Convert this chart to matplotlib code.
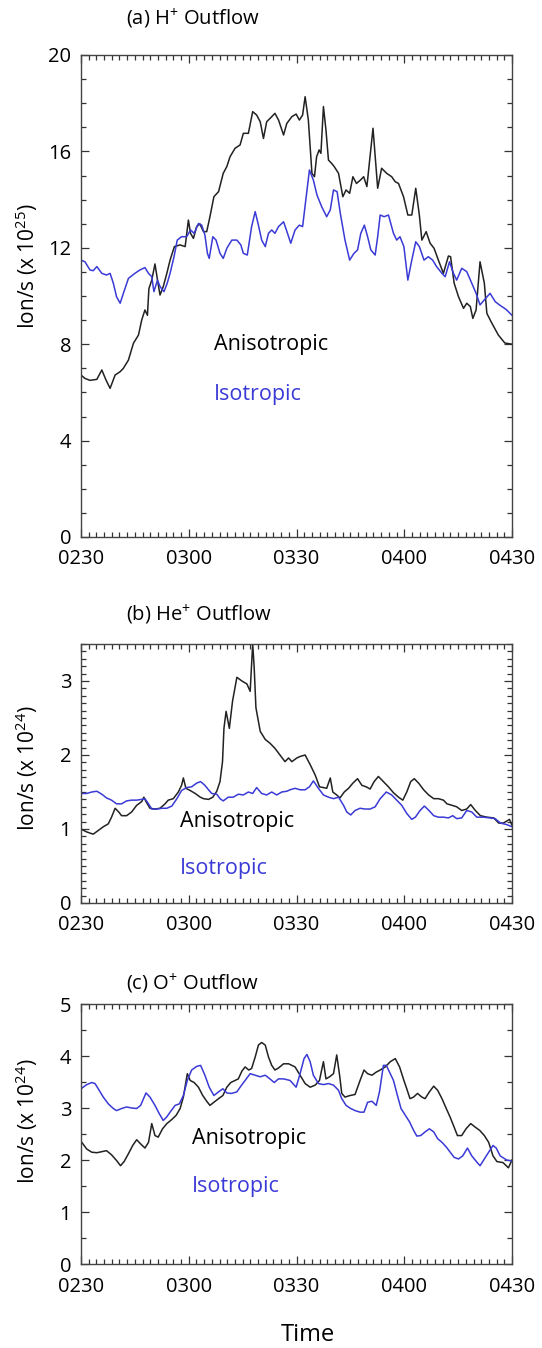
import numpy as np
import matplotlib
matplotlib.use('Agg')
import matplotlib.pyplot as plt
from matplotlib.ticker import MultipleLocator, FixedLocator

plt.rcParams['font.family'] = ['Open Sans', 'DejaVu Sans']

# time axis: minutes after 02:30 UT
tick_pos = [0, 30, 60, 90, 120]
tick_lab = ['0230', '0300', '0330', '0400', '0430']

# (a) H+ outflow, x 10^25 ion/s
a_t_aniso = [0, 1.1, 2.5, 4.4, 5.8, 7, 8.1, 9.5, 10.9, 11.8, 13.2, 14.6, 16, 16.9, 17.8, 18.5,
             18.9, 19.7, 20.6, 21.3, 22, 22.9, 23.9, 24.8, 26, 27.6, 29, 29.9, 30.5, 31.3, 32.2,
             33.1, 34.1, 35, 35.9, 37, 38.3, 39.6, 40.6, 41.5, 42.9, 44.3, 45.2, 46.6, 47.8, 48.9,
             49.9, 50.8, 51.7, 53.1, 54, 55, 56.4, 57.3, 58.7, 59.9, 60.8, 61.7, 62.4, 63.3, 64.3,
             65, 65.6, 66.3, 66.8, 67.5, 68.2, 68.9, 69.8, 70.5, 71.7, 72.9, 73.8, 74.8, 75.7, 76.7,
             77.8, 78.7, 79.6, 81.3, 82.6, 83.7, 85.1, 86.5, 87.5, 88.4, 89.8, 91, 92.1, 93.2, 94.2,
             94.9, 96.1, 97.2, 98.3, 99.5, 100.9, 102.3, 102.9, 103.9, 105.1, 106.5, 107.4, 108.4,
             109.1, 110, 111.1, 112.3, 113, 114.4, 116.2, 118, 120]
a_aniso = [6.72, 6.58, 6.5, 6.54, 6.93, 6.5, 6.17, 6.72, 6.86, 7.0, 7.34, 8.04, 8.38, 9.0, 9.42, 9.2,
           10.3, 10.66, 11.33, 10.66, 10.04, 10.39, 10.94, 11.49, 12.05, 12.12, 12.05, 13.15, 12.6,
           12.39, 12.88, 12.99, 12.67, 12.67, 13.29, 14.12, 14.33, 15.09, 15.37, 15.78, 16.13, 16.27,
           16.75, 16.75, 17.65, 17.51, 17.23, 16.54, 17.23, 17.44, 17.58, 17.3, 16.68, 17.16, 17.44,
           17.55, 17.3, 17.51, 18.27, 17.3, 15.09, 14.95, 15.78, 16.06, 15.92, 17.86, 16.89, 15.64,
           15.5, 15.37, 15.09, 14.12, 14.4, 14.26, 14.95, 14.67, 14.81, 14.95, 14.54, 16.96, 14.47,
           15.3, 15.09, 14.95, 14.74, 14.67, 14.12, 13.36, 13.36, 14.47, 13.36, 12.32, 12.67, 12.19,
           11.98, 11.49, 10.94, 11.66, 11.63, 10.53, 9.97, 9.49, 9.7, 9.56, 9.07, 9.42, 11.42, 10.53,
           9.28, 8.87, 8.38, 8.05, 8.0]
a_t_iso = [0, 1.1, 2.5, 3.4, 4.4, 5.8, 7.1, 8.1, 9, 9.9, 10.9, 11.8, 13.2, 15, 16.4, 17.8, 18.8, 19.7,
           20.3, 21.3, 22, 23.1, 24, 24.8, 25.9, 26.8, 28, 29.4, 30.5, 31.5, 32.7, 33.6, 34.5, 35.2,
           35.7, 36.7, 37.6, 38.7, 39.6, 40.6, 42, 43.4, 44.5, 45.2, 46.3, 47.5, 48.5, 49.4, 50.3,
           51.3, 52.2, 53.1, 54, 55, 56.4, 57.5, 58.4, 59.6, 60.8, 61.7, 62.7, 63.6, 64.7, 65.7, 67,
           68.4, 69.4, 70.3, 71.3, 72.2, 73.5, 74.8, 76, 77, 77.9, 78.9, 79.8, 80.7, 81.9, 82.6, 83.3,
           84.4, 85.6, 87, 87.9, 88.8, 89.9, 91, 92.1, 93.2, 94.2, 95.5, 96.7, 97.9, 99, 100.5, 101.4,
           102.6, 103.7, 104.6, 106, 107.4, 108.8, 110, 111.1, 112.3, 113.9, 115.3, 116.5, 118.3, 120]
a_iso = [11.49, 11.42, 11.08, 11.05, 11.22, 10.94, 10.87, 10.94, 10.53, 9.97, 9.7, 10.11, 10.73,
         10.94, 11.08, 11.18, 10.94, 10.8, 10.18, 10.66, 10.39, 10.18, 10.53, 10.94, 11.63, 12.32,
         12.46, 12.46, 12.74, 12.6, 13.01, 12.94, 12.53, 11.77, 11.56, 12.46, 12.32, 11.77, 11.56,
         11.98, 12.32, 12.32, 12.12, 11.77, 11.7, 12.88, 13.5, 12.94, 12.32, 12.05, 12.6, 12.74,
         12.6, 12.88, 13.08, 12.6, 12.19, 12.74, 12.94, 12.88, 14.12, 15.23, 14.81, 14.19, 13.71,
         13.29, 13.57, 14.4, 14.33, 13.43, 12.32, 11.49, 11.77, 11.91, 12.6, 12.94, 12.46, 11.91,
         11.7, 12.46, 13.36, 13.29, 13.36, 12.6, 12.32, 12.46, 12.05, 10.66, 11.49, 12.25, 12.05,
         11.49, 11.63, 11.49, 11.22, 10.94, 10.8, 11.42, 10.94, 10.66, 11.15, 11.01, 10.53, 10.11,
         9.63, 9.84, 10.11, 9.77, 9.63, 9.45, 9.2]

# (b) He+ outflow, x 10^24 ion/s
b_t_aniso = [0, 1.6, 3.4, 4.8, 6.2, 7.6, 8.5, 9.5, 10.5, 11.3, 12.7, 14.1, 15.5, 16.9, 17.5, 18.1,
             19.2, 20.6, 22, 23.4, 24.3, 25.7, 27.1, 28, 28.5, 29.2, 30.4, 31.8, 33.2, 34.1, 35.5,
             36.7, 37.8, 38.7, 39.4, 39.8, 40.4, 41.3, 42.2, 43.4, 44.8, 46.2, 47.1, 47.8, 48.2,
             48.7, 49.9, 51.3, 52.6, 54, 55.4, 56.8, 57.8, 58.7, 60.1, 61, 62.4, 63.8, 65.2, 66.4,
             67.5, 68.4, 69.4, 70.1, 71.2, 72.1, 73.3, 74.5, 75.7, 77, 78.2, 79.4, 80.5, 81.6, 82.8,
             84.2, 85.6, 87, 88.4, 89.6, 90.7, 91.8, 92.8, 94, 95.4, 96.8, 98.2, 99.5, 100.9, 101.9,
             103.3, 104.6, 106, 107.4, 108.5, 109.8, 111.2, 113, 114.9, 116.3, 117.6, 119.3, 120]
b_aniso = [1.0, 0.96, 0.93, 0.98, 1.03, 1.07, 1.16, 1.28, 1.23, 1.18, 1.18, 1.23, 1.32, 1.37, 1.43,
           1.37, 1.28, 1.27, 1.28, 1.34, 1.39, 1.41, 1.5, 1.59, 1.69, 1.55, 1.52, 1.48, 1.43, 1.41,
           1.4, 1.43, 1.51, 1.64, 1.91, 2.36, 2.59, 2.36, 2.73, 3.05, 3.0, 2.96, 2.86, 3.5, 3.2,
           2.64, 2.32, 2.21, 2.16, 2.09, 2.0, 1.91, 1.96, 1.91, 1.96, 1.98, 2.0, 1.87, 1.73, 1.57,
           1.56, 1.55, 1.69, 1.5, 1.46, 1.42, 1.5, 1.55, 1.62, 1.68, 1.59, 1.57, 1.54, 1.64, 1.71,
           1.64, 1.57, 1.49, 1.43, 1.39, 1.5, 1.64, 1.68, 1.62, 1.53, 1.46, 1.41, 1.41, 1.39, 1.34,
           1.32, 1.3, 1.25, 1.27, 1.33, 1.25, 1.18, 1.16, 1.15, 1.08, 1.08, 1.13, 1.05]
b_t_iso = [0, 1.6, 3, 4.4, 5.8, 7.1, 8.5, 9.9, 11.3, 12.7, 14.1, 15.5, 16.9, 17.8, 18.8, 19.7, 21.1,
           22.5, 23.9, 25.3, 26.7, 28, 29.4, 30.8, 32.2, 33.3, 34.5, 35.5, 36.4, 37.8, 38.7, 39.6,
           41, 42.4, 43.8, 45.2, 46.6, 47.8, 48.9, 50.3, 51.7, 53.1, 54.5, 55.9, 57.3, 58.2, 59.6,
           61, 62.4, 63.6, 64.7, 66.1, 67.5, 68.9, 70.3, 71.7, 73.1, 74, 75.1, 76.3, 77.7, 79.1,
           80.5, 81.9, 83.3, 85, 86.5, 87.9, 89.3, 90.7, 92.1, 93.1, 94.4, 95.6, 96.9, 98.2, 99.5,
           100.9, 102.3, 103.5, 104.6, 106, 107.4, 108.8, 110.2, 112, 113.9, 115.3, 116.8, 118.5, 120]
b_iso = [1.48, 1.48, 1.5, 1.51, 1.47, 1.42, 1.39, 1.34, 1.34, 1.38, 1.39, 1.39, 1.4, 1.41, 1.34,
         1.27, 1.27, 1.28, 1.28, 1.31, 1.41, 1.52, 1.56, 1.57, 1.62, 1.64, 1.59, 1.53, 1.48, 1.47,
         1.41, 1.38, 1.43, 1.43, 1.47, 1.46, 1.5, 1.48, 1.56, 1.48, 1.46, 1.5, 1.46, 1.5, 1.51,
         1.53, 1.55, 1.53, 1.53, 1.57, 1.65, 1.55, 1.46, 1.43, 1.41, 1.43, 1.32, 1.23, 1.19, 1.25,
         1.28, 1.27, 1.27, 1.3, 1.41, 1.5, 1.46, 1.39, 1.32, 1.21, 1.13, 1.16, 1.25, 1.31, 1.25,
         1.18, 1.16, 1.16, 1.15, 1.18, 1.14, 1.15, 1.25, 1.23, 1.16, 1.16, 1.15, 1.14, 1.08, 1.06, 1.03]

# (c) O+ outflow, x 10^24 ion/s
c_t_aniso = [0, 1.6, 3, 4.4, 5.8, 7.1, 8.5, 9.9, 11, 12, 13.2, 14.4, 15.5, 16.6, 17.8, 18.8, 19.7,
             20.6, 21.5, 22.7, 23.9, 25.3, 26.5, 27.6, 28.5, 29.6, 30.4, 31.5, 32.7, 33.9, 35, 35.9,
             37, 38.3, 39.5, 40.6, 41.7, 42.9, 43.8, 44.8, 45.7, 46.7, 47.5, 48.5, 49.4, 50.3, 51.3,
             52.2, 53.1, 54, 55, 56.4, 57.8, 59.6, 61, 62.4, 63.8, 65.2, 66.4, 67, 67.5, 68.2, 69.2,
             70.3, 71.2, 72, 72.6, 73.5, 74.9, 76.3, 77.7, 78.8, 79.8, 81, 82.2, 83.3, 84.7, 86.1,
             87.5, 88.7, 89.9, 90.7, 91.6, 92.6, 93.7, 94.9, 95.8, 97, 98.2, 99.3, 100.5, 101.7,
             102.8, 103.9, 104.8, 106, 107.2, 108.5, 109.8, 111, 112.3, 113.5, 114.7, 115.8, 117.5,
             119, 120]
c_aniso = [2.36, 2.21, 2.15, 2.14, 2.16, 2.18, 2.1, 1.99, 1.89, 1.97, 2.12, 2.28, 2.39, 2.31, 2.23,
           2.34, 2.7, 2.47, 2.44, 2.6, 2.7, 2.78, 2.86, 2.99, 3.21, 3.66, 3.53, 3.49, 3.4, 3.24, 3.13,
           3.05, 3.11, 3.18, 3.24, 3.4, 3.49, 3.53, 3.56, 3.71, 3.79, 3.73, 3.76, 3.98, 4.21, 4.26,
           4.21, 3.98, 3.82, 3.73, 3.77, 3.85, 3.85, 3.79, 3.63, 3.47, 3.4, 3.44, 3.53, 3.73, 3.89,
           3.56, 3.6, 3.66, 4.02, 3.63, 3.28, 3.21, 3.24, 3.26, 3.53, 3.73, 3.66, 3.63, 3.69, 3.73,
           3.79, 3.89, 3.95, 3.79, 3.53, 3.37, 3.18, 3.21, 3.28, 3.21, 3.18, 3.31, 3.42, 3.34, 3.18,
           2.99, 2.82, 2.63, 2.47, 2.47, 2.6, 2.7, 2.63, 2.57, 2.47, 2.34, 2.08, 1.97, 1.95, 1.85,
           2.0]
c_t_iso = [0, 1.6, 3, 3.9, 4.8, 6.2, 7.6, 9, 9.9, 11.3, 12.7, 14.1, 15.5, 16.6, 18.1, 19.2, 20.6,
           21.8, 22.9, 23.9, 24.8, 26.2, 27.4, 28.5, 29.6, 30.8, 32.2, 33.3, 34.5, 35.7, 37, 38.3,
           39.5, 40.6, 41.9, 43.4, 44.5, 45.7, 47.1, 48.5, 49.9, 51.3, 52.6, 53.8, 55, 56.4, 58.2,
           59.9, 61, 62.1, 62.9, 63.8, 64.7, 66.1, 67.5, 68.9, 70.3, 71.7, 72.6, 73.8, 75.1, 76.3,
           77.7, 78.8, 79.8, 81, 82.2, 83.1, 84.2, 85, 85.9, 87, 88.1, 89.1, 90.3, 91.5, 92.6, 93.5,
           94.6, 95.8, 97, 98.2, 99.3, 100.5, 101.7, 102.8, 103.9, 105.1, 106.3, 107.6, 108.8,
           110.2, 111.1, 112.3, 113.5, 114.7, 115.6, 116.7, 118.5, 120]
c_iso = [3.37, 3.45, 3.49, 3.47, 3.37, 3.21, 3.08, 2.99, 2.95, 2.99, 3.02, 3.0, 2.99, 3.05, 3.29,
         3.21, 3.05, 2.89, 2.76, 2.83, 2.92, 3.05, 3.08, 3.24, 3.53, 3.73, 3.8, 3.82, 3.63, 3.4,
         3.24, 3.31, 3.37, 3.29, 3.28, 3.31, 3.42, 3.53, 3.66, 3.63, 3.6, 3.63, 3.56, 3.49, 3.56,
         3.56, 3.53, 3.4, 3.66, 3.95, 4.03, 3.89, 3.63, 3.47, 3.45, 3.47, 3.44, 3.34, 3.18, 3.05,
         2.99, 2.95, 2.92, 2.92, 3.11, 3.13, 3.05, 3.31, 3.82, 3.82, 3.69, 3.53, 3.24, 2.99, 2.86,
         2.73, 2.57, 2.46, 2.47, 2.54, 2.6, 2.54, 2.41, 2.34, 2.25, 2.15, 2.05, 2.02, 2.08, 2.23,
         2.08, 1.96, 1.89, 2.02, 2.15, 2.28, 2.23, 2.08, 2.0, 1.98]

BLACK = '#222222'
BLUE = '#3a3ad6'
W, H = 542, 1348

fig = plt.figure(figsize=(W / 100, H / 100), dpi=100, facecolor='white')


def px_axes(left, top, right, bottom):
    return fig.add_axes([left / W, 1 - bottom / H, (right - left) / W, (bottom - top) / H])


def setup(ax, ymax, ymajor, yminor):
    ax.set_xlim(0, 120)
    ax.set_ylim(0, ymax)
    ax.xaxis.set_major_locator(FixedLocator(tick_pos))
    ax.set_xticklabels(tick_lab)
    ax.xaxis.set_minor_locator(MultipleLocator(30 / 14))
    ax.yaxis.set_major_locator(FixedLocator(ymajor))
    ax.yaxis.set_minor_locator(MultipleLocator(yminor))
    ax.tick_params(axis='both', which='both', direction='in', top=True, right=True,
                   labelsize=14.5, colors='#333333', labelcolor='black', width=0.9)
    ax.tick_params(axis='both', which='major', length=6)
    ax.tick_params(axis='x', which='major', pad=9)
    ax.tick_params(axis='y', which='major', pad=7)
    ax.tick_params(axis='both', which='minor', length=3.5)
    for s in ax.spines.values():
        s.set_linewidth(1.0)
        s.set_color('#444444')


panels = [
    (55, 537, a_t_aniso, a_aniso, a_t_iso, a_iso, 20, [0, 4, 8, 12, 16, 20], 1, '25',
     (37, 8.0), (37, 5.9), 19, 266),
    (644, 903, b_t_aniso, b_aniso, b_t_iso, b_iso, 3.5, [0, 1, 2, 3], 0.1, '24',
     (27.5, 1.1), (27.5, 0.46), 615, 768),
    (1004, 1264, c_t_aniso, c_aniso, c_t_iso, c_iso, 5, [0, 1, 2, 3, 4, 5], 0.5, '24',
     (31, 2.41), (31, 1.49), 984, 1121),
]
titles = ['(a) H$^{\\mathregular{+}}$ Outflow', '(b) He$^{\\mathregular{+}}$ Outflow',
          '(c) O$^{\\mathregular{+}}$ Outflow']

for (top, bot, ta, ya, ti, yi, ymax, ymaj, ymin, expo, pos_an, pos_is, ty, ly), title in zip(panels, titles):
    ax = px_axes(81, top, 512, bot)
    ax.plot(ta, ya, color=BLACK, lw=1.1)
    ax.plot(ti, yi, color=BLUE, lw=1.1)
    setup(ax, ymax, ymaj, ymin)
    ax.text(pos_an[0], pos_an[1], 'Anisotropic', color='black', fontsize=15.5, va='center')
    ax.text(pos_is[0], pos_is[1], 'Isotropic', color=BLUE, fontsize=15.5, va='center')
    fig.text(126 / W, 1 - ty / H, title, fontsize=14.5, ha='left', va='center')
    fig.text(27 / W, 1 - ly / H, 'Ion/s (x 10$^{\\mathregular{%s}}$)' % expo, fontsize=15,
             rotation=90, ha='center', va='center')

fig.text(308 / W, 1 - 1335 / H, 'Time', fontsize=17, ha='center', va='center')

fig.savefig('out.png', dpi=100, facecolor='white')
